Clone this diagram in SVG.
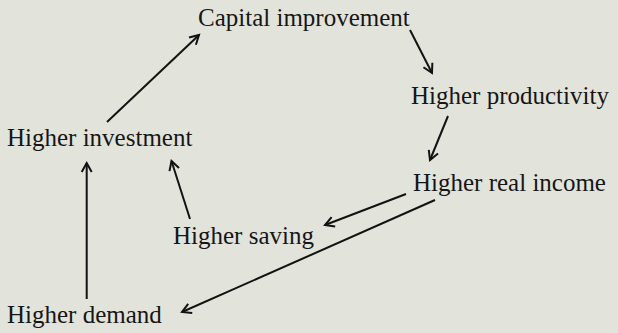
<svg xmlns="http://www.w3.org/2000/svg" width="618" height="333" viewBox="0 0 618 333">
  <style>
    .label { font-family: "Liberation Serif", "DejaVu Serif", serif; font-size: 25px; fill: #161616; }
    .edge { stroke: #121212; stroke-width: 2; fill: none; marker-end: url(#head); }
  </style>
  <defs>
    <marker id="head" markerUnits="userSpaceOnUse" markerWidth="14" markerHeight="14" refX="11" refY="7" orient="auto">
      <path d="M2,2 L11,7 L2,12" fill="none" stroke="#121212" stroke-width="2" stroke-linejoin="miter"/>
    </marker>
  </defs>
  <rect width="618" height="333" fill="#e2e4dc"/>

  <g id="capital-improvement"><text class="label" x="198" y="26">Capital improvement</text></g>
  <g id="higher-productivity"><text class="label" x="411" y="104">Higher productivity</text></g>
  <g id="higher-investment"><text class="label" x="7" y="146">Higher investment</text></g>
  <g id="higher-real-income"><text class="label" x="413" y="191">Higher real income</text></g>
  <g id="higher-saving"><text class="label" x="173" y="244">Higher saving</text></g>
  <g id="higher-demand"><text class="label" x="7" y="323">Higher demand</text></g>

  <g id="connectors">
    <line class="edge" x1="107" y1="122" x2="199" y2="35"/>
    <line class="edge" x1="410" y1="30" x2="432" y2="73"/>
    <line class="edge" x1="448" y1="116" x2="430" y2="160"/>
    <line class="edge" x1="406" y1="194" x2="325" y2="225"/>
    <line class="edge" x1="435" y1="200" x2="182" y2="312"/>
    <line class="edge" x1="190" y1="219" x2="171.5" y2="161"/>
    <line class="edge" x1="86.7" y1="299" x2="86.7" y2="163"/>
  </g>
</svg>
